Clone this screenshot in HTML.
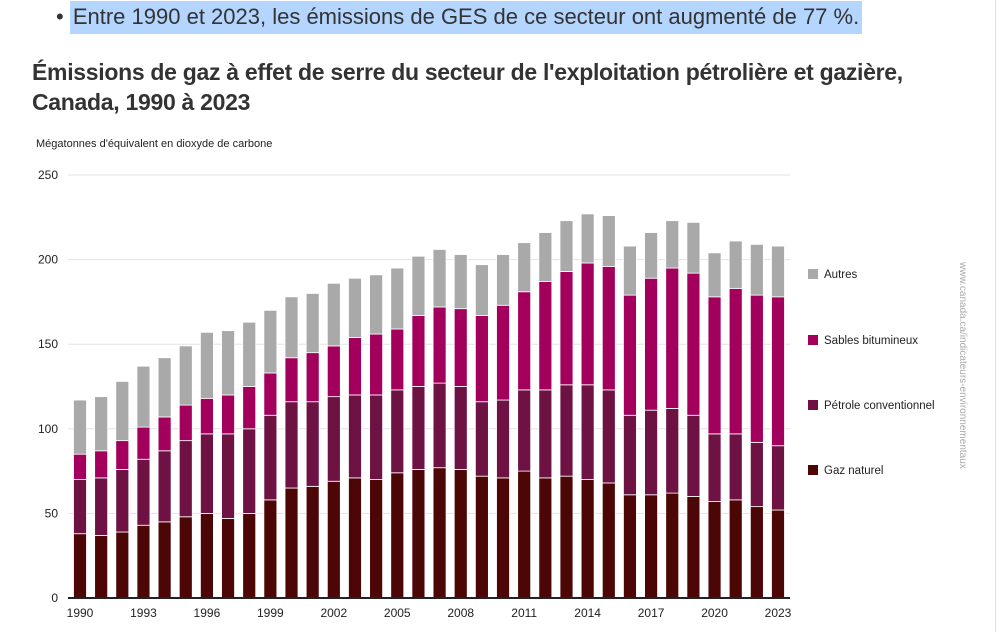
<!DOCTYPE html>
<html><head><meta charset="utf-8"><style>
body{margin:0;width:1000px;height:632px;background:#fff;overflow:hidden;font-family:"Liberation Sans",sans-serif;position:relative}
.bullet{position:absolute;left:56px;top:4px;font-size:22px;color:#333;white-space:nowrap}
.hl{background:#b4d5fe;padding:3px 3px 5px 3px}
.title{position:absolute;left:32px;top:57px;font-size:23px;font-weight:bold;color:#333;line-height:30px;width:960px;white-space:nowrap;letter-spacing:-0.3px}
.frame{position:absolute;right:4px;top:0;width:1px;height:632px;background:#ddd}
</style></head><body>
<div class="bullet">• <span class="hl">Entre 1990 et 2023, les émissions de GES de ce secteur ont augmenté de 77 %.</span></div>
<div class="title">Émissions de gaz à effet de serre du secteur de l'exploitation pétrolière et gazière,<br>Canada, 1990 à 2023</div>
<div class="frame"></div>
<svg id="chart" width="1000" height="632" style="position:absolute;left:0;top:0" font-family="Liberation Sans, sans-serif"></svg>
<script>
const years=[1990,1991,1992,1993,1994,1995,1996,1997,1998,1999,2000,2001,2002,2003,2004,2005,2006,2007,2008,2009,2010,2011,2012,2013,2014,2015,2016,2017,2018,2019,2020,2021,2022,2023];
const gaz=[38,37,39,43,45,48,50,47,50,58,65,66,69,71,70,74,76,77,76,72,71,75,71,72,70,68,61,61,62,60,57,58,54,52];
const petrole=[32,34,37,39,42,45,47,50,50,50,51,50,50,49,50,49,49,50,49,44,46,48,52,54,56,55,47,50,50,48,40,39,38,38];
const sables=[15,16,17,19,20,21,21,23,25,25,26,29,30,34,36,36,42,45,46,51,56,58,64,67,72,73,71,78,83,84,81,86,87,88];
const autres=[32,32,35,36,35,35,39,38,38,37,36,35,37,35,35,36,35,34,32,30,30,29,29,30,29,30,29,27,28,30,26,28,30,30];
const yTicks=[0,50,100,150,200,250];
const xTickYears=[1990,1993,1996,1999,2002,2005,2008,2011,2014,2017,2020,2023];
const seriesNames=["Gaz naturel","Pétrole conventionnel","Sables bitumineux","Autres"];
const colors=["#4d0606","#6e1244","#a3005e","#a9a9a9"];

const svg=document.getElementById('chart');
const NS='http://www.w3.org/2000/svg';
const y0=598,yTop=175,vMax=250;
const yS=v=>y0-(y0-yTop)*v/vMax;
const x0=80,step=(778-80)/(years.length-1);
const xS=i=>x0+i*step;
const bw=13;
function mk(t,a){const e=document.createElementNS(NS,t);for(const k in a)e.setAttribute(k,a[k]);svg.appendChild(e);return e;}

let t=mk('text',{x:36,y:147,'font-size':11,fill:'#222'});t.textContent="Mégatonnes d'équivalent en dioxyde de carbone";



yTicks.forEach(v=>{
  if(v>0){const g=mk('line',{x1:68,x2:790,y1:yS(v),y2:yS(v),stroke:'#e3e3e3','stroke-width':1});
  
  }
  const l=mk('text',{x:58,y:yS(v)+4,'font-size':12,fill:'#222','text-anchor':'end'});l.textContent=v;
  
  
});

const series=[gaz,petrole,sables,autres];
years.forEach((yr,i)=>{
  let base=0;
  series.forEach((s,k)=>{
    const top=base+s[i];
    const r=mk('rect',{x:xS(i)-bw/2,y:yS(top),width:bw,height:yS(base)-yS(top),fill:colors[k],stroke:'#fff','stroke-width':0.8});
    
    
    base=top;
  });
});

const ax=mk('line',{x1:68,x2:790,y1:y0,y2:y0,stroke:'#222','stroke-width':2});



xTickYears.forEach(yr=>{
  const i=years.indexOf(yr);
  const l=mk('text',{x:xS(i),y:617,'font-size':12,fill:'#222','text-anchor':'middle'});l.textContent=yr;
  
  
});

const legY=[470,405,340,274];
seriesNames.forEach((n,k)=>{
  const r=mk('rect',{x:808,y:legY[k]-5,width:10,height:10,fill:colors[k]});
  
  
  const l=mk('text',{x:824,y:legY[k]+4,'font-size':11.5,fill:'#222'});l.textContent=n;
  
  
});

const w=mk('text',{x:0,y:0,'font-size':10,fill:'#aaa',transform:'translate(960,262) rotate(90)'});w.textContent="www.canada.ca/indicateurs-environnementaux";


</script>
</body></html>
